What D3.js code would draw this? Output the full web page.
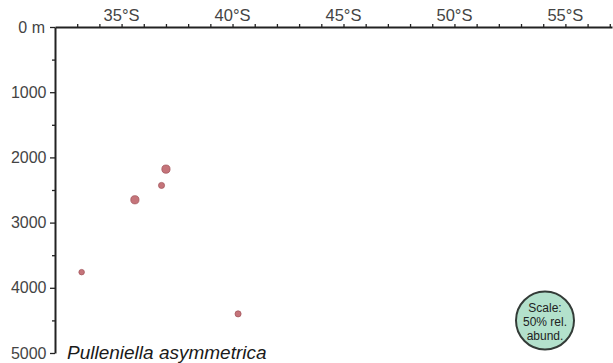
<!DOCTYPE html>
<html>
<head>
<meta charset="utf-8">
<script src="https://cdn.jsdelivr.net/npm/d3@7"></script>
<style>
  html, body { margin: 0; padding: 0; background: #fff; }
  svg { display: block; font-family: "Liberation Sans", Arial, sans-serif; }
</style>
</head>
<body>
<svg id="chart" width="613" height="363"></svg>
<script>
// Sample stations: latitude (°S), water depth (m), relative abundance (%)
const latitudes = [33.2, 35.6, 36.8, 37.0, 40.25];
const depths = [3760, 2650, 2430, 2180, 4400];
const abundances = [0.45, 1.0, 0.55, 1.0, 0.55];

const latTickLabels = [35, 40, 45, 50, 55];
const depthTickLabels = [0, 1000, 2000, 3000, 4000, 5000];
const scaleAbundance = 50;
const speciesName = "Pulleniella asymmetrica";

const svg = d3.select("#chart");

const x = d3.scaleLinear().domain([32, 57.1]).range([55, 612]);
const y = d3.scaleLinear().domain([0, 5000]).range([27, 353]);
const r = d3.scaleSqrt().domain([0, 50]).range([0, 29]);

const axisColor = "#222";
const labelColor = "#444";

// Top latitude axis with 1° ticks pointing up
const xAxis = d3.axisTop(x)
  .tickValues(d3.range(33, 58, 1))
  .tickSize(3)
  .tickSizeOuter(0)
  .tickFormat("");
const gx = svg.append("g").attr("transform", `translate(0,${y(0)})`).call(xAxis);
gx.select(".domain").attr("stroke", axisColor).attr("stroke-width", 2);
gx.selectAll(".tick line").attr("stroke", axisColor).attr("stroke-width", 1.3);

svg.append("g").selectAll("text")
  .data(latTickLabels)
  .join("text")
  .attr("x", d => x(d))
  .attr("y", 21)
  .attr("text-anchor", "middle")
  .attr("fill", labelColor)
  .attr("font-size", 16.5)
  .text(d => `${d}°S`);

// Left depth axis: major ticks every 1000 m, minor every 500 m
const yAxis = d3.axisLeft(y)
  .tickValues(depthTickLabels)
  .tickSize(5)
  .tickSizeOuter(0)
  .tickFormat("");
const gy = svg.append("g").attr("transform", `translate(${x(32)},0)`).call(yAxis);
gy.select(".domain").attr("stroke", axisColor).attr("stroke-width", 2);
gy.selectAll(".tick line").attr("stroke", axisColor).attr("stroke-width", 1.3);

const yMinor = d3.axisLeft(y)
  .tickValues(d3.range(500, 5000, 1000))
  .tickSize(3)
  .tickSizeOuter(0)
  .tickFormat("");
const gyMinor = svg.append("g").attr("transform", `translate(${x(32)},0)`).call(yMinor);
gyMinor.select(".domain").remove();
gyMinor.selectAll(".tick line").attr("stroke", axisColor).attr("stroke-width", 1.3);

svg.append("g").selectAll("text")
  .data(depthTickLabels)
  .join("text")
  .attr("x", d => d === 0 ? 45 : 46.5)
  .attr("y", d => y(d))
  .attr("dy", "0.35em")
  .attr("text-anchor", "end")
  .attr("fill", labelColor)
  .attr("font-size", 16)
  .text(d => d === 0 ? "0 m" : d);

// Abundance bubbles
svg.append("g").selectAll("circle")
  .data(latitudes.map((lat, i) => ({ lat, depth: depths[i], ab: abundances[i] })))
  .join("circle")
  .attr("cx", d => x(d.lat))
  .attr("cy", d => y(d.depth))
  .attr("r", d => r(d.ab))
  .attr("fill", "#c5747a")
  .attr("stroke", "#a5585e")
  .attr("stroke-width", 0.8);

// Size key
const key = svg.append("g").attr("transform", "translate(545,320.5)");
key.append("circle")
  .attr("r", r(scaleAbundance))
  .attr("fill", "#b3e1cc")
  .attr("stroke", "#333b37")
  .attr("stroke-width", 2);
key.append("text")
  .attr("text-anchor", "middle")
  .attr("fill", "#222")
  .attr("font-size", 12)
  .selectAll("tspan")
  .data(["Scale:", "50% rel.", "abund."])
  .join("tspan")
  .attr("x", 0)
  .attr("y", (d, i) => -12.5 + i * 13.8)
  .attr("dy", "0.35em")
  .text(d => d);

// Species name
svg.append("text")
  .attr("x", 67)
  .attr("y", 359)
  .attr("font-style", "italic")
  .attr("font-size", 19)
  .attr("fill", "#1a1a1a")
  .text(speciesName);
</script>
</body>
</html>
